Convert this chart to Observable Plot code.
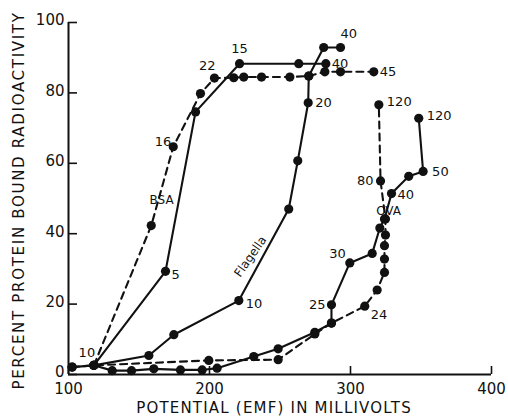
<!DOCTYPE html>
<html>
<head>
<meta charset="utf-8">
<script src="https://cdn.jsdelivr.net/npm/d3@7"></script>
<script src="https://cdn.jsdelivr.net/npm/@observablehq/plot@0.6"></script>
<style>
  html, body { margin: 0; padding: 0; background: #fff; }
  #chart svg { display: block; }
</style>
</head>
<body>
<div id="chart"></div>
<script>
// ---- Data ----
const xTicks = [100, 200, 300, 400];
const yTicks = [0, 20, 40, 60, 80, 100];

const bsaSolidMV  = [118, 168.8, 190.1, 221.3, 263.3, 282.5];
const bsaSolidPct = [2.6, 29.3, 74.6, 88.3, 88.3, 88.3];

const bsaDashedMV  = [118, 158.7, 174.3, 193.6, 203.5, 217.2, 224.3, 236.9, 257, 270.4, 281.8, 292.9, 316.5];
const bsaDashedPct = [2.6, 42.3, 64.7, 79.8, 84.2, 84.3, 84.5, 84.5, 84.5, 84.8, 86, 86, 86];

const flagellaMV  = [118, 157, 174.7, 220.8, 256.2, 262.6, 270, 270.4, 281, 292.9];
const flagellaPct = [2.6, 5.4, 11.3, 21, 47, 60.7, 77.2, 84.8, 92.9, 92.9];

const ovaSolidMV  = [102.6, 118, 131, 144.7, 160.5, 179.4, 194.8, 205.4, 231.4, 248.7, 274.7, 286.5, 286.5, 299.5, 315.4, 320.8, 324.1, 329.1, 341.3, 351.5, 348.4];
const ovaSolidPct = [2.1, 2.6, 1.1, 1.1, 1.6, 1.3, 1.3, 1.8, 5.1, 7.3, 12, 14.6, 19.8, 31.7, 34.4, 41.6, 44.2, 51.4, 56.3, 57.7, 72.8];

const ovaDashedMV  = [102.6, 118, 199.5, 248.7, 274.7, 286.5, 310.1, 318.9, 324.1, 324.1, 324.1, 324.8, 324.8, 321.3, 320.1];
const ovaDashedPct = [2.1, 2.6, 4, 4.2, 11.5, 14.6, 19.4, 24, 29, 32.8, 36.6, 39.6, 44.2, 55, 76.6];

// point annotations (time labels): series, point index, text
const labelSeries = ["bsaSolid","bsaSolid","bsaSolid","bsaSolid","bsaDashed","bsaDashed","bsaDashed","flagella","flagella","flagella","ovaSolid","ovaSolid","ovaSolid","ovaSolid","ovaSolid","ovaDashed","ovaDashed","ovaDashed"];
const labelIndex  = [0, 1, 3, 5, 2, 4, 12, 3, 6, 9, 12, 13, 17, 19, 20, 6, 13, 14];
const labelText   = ["10","5","15","40","16","22","45","10","20","40","25","30","40","50","120","24","80","120"];

// curve names
const curveNames = ["BSA", "Flagella", "OVA"];
const curveNameMV = [166, 229, 327];
const curveNamePct = [49.6, 33.5, 46.5];

// ---- Build ----
const series = {
  bsaSolid:  {x: bsaSolidMV,  y: bsaSolidPct,  dashed: false},
  bsaDashed: {x: bsaDashedMV, y: bsaDashedPct, dashed: true},
  flagella:  {x: flagellaMV,  y: flagellaPct,  dashed: false},
  ovaSolid:  {x: ovaSolidMV,  y: ovaSolidPct,  dashed: false},
  ovaDashed: {x: ovaDashedMV, y: ovaDashedPct, dashed: true}
};
const rowsOf = k => series[k].x.map((x, i) => ({x, y: series[k].y[i], s: k}));

// label placement styles (offsets in pixels), keyed by label order
const labelStyle = [
  {a:"middle", dx:-7, dy:-13}, {a:"start", dx:6, dy:3}, {a:"middle", dx:0, dy:-15}, {a:"start", dx:6, dy:0},
  {a:"end", dx:-2, dy:-5}, {a:"end", dx:1, dy:-12}, {a:"start", dx:6, dy:0},
  {a:"start", dx:7, dy:3}, {a:"start", dx:7, dy:0}, {a:"start", dx:0, dy:-14},
  {a:"end", dx:-6, dy:0}, {a:"end", dx:-4, dy:-9}, {a:"start", dx:6, dy:1}, {a:"start", dx:9, dy:0}, {a:"start", dx:8, dy:-2},
  {a:"start", dx:6, dy:9}, {a:"end", dx:-7, dy:0}, {a:"start", dx:8, dy:-3}
];

const W = 508, H = 417;
const mL = 68, mR = 17, mT = 22, mB = 43;
const innerW = W - mL - mR, innerH = H - mT - mB;
const FONT = "DejaVu Sans, sans-serif";

const marks = [];

// axis lines
marks.push(Plot.ruleX([100], {stroke: "#111", strokeWidth: 2}));
marks.push(Plot.ruleY([0], {stroke: "#111", strokeWidth: 2}));
// inward ticks
marks.push(Plot.tickX(xTicks, {x: d => d, insetTop: innerH - 8, stroke: "#111", strokeWidth: 1.6}));
marks.push(Plot.tickY(yTicks, {y: d => d, insetRight: innerW - 9, stroke: "#111", strokeWidth: 1.6}));
// tick labels
marks.push(Plot.axisX(xTicks, {tickSize: 0, tickPadding: 9, fontSize: 15, label: null, fill: "#111"}));
marks.push(Plot.axisY(yTicks, {tickSize: 0, tickPadding: 4, dy: -2, fontSize: 15, label: null, fill: "#111"}));

// lines
for (const k of Object.keys(series)) {
  marks.push(Plot.line(rowsOf(k), {
    x: "x", y: "y", stroke: "#111", strokeWidth: 2.1,
    strokeDasharray: series[k].dashed ? "7,5" : null
  }));
}
// dots
for (const k of Object.keys(series)) {
  marks.push(Plot.dot(rowsOf(k), {x: "x", y: "y", r: 4.6, fill: "#111", stroke: "none"}));
}

// point labels
labelText.forEach((t, i) => {
  const k = labelSeries[i], j = labelIndex[i], st = labelStyle[i];
  marks.push(Plot.text([{x: series[k].x[j], y: series[k].y[j], t}], {
    x: "x", y: "y", text: "t", textAnchor: st.a, dx: st.dx, dy: st.dy,
    fontSize: 13, fill: "#111", fontFamily: FONT
  }));
});

// curve names
marks.push(Plot.text([0], {x: curveNameMV[0], y: curveNamePct[0], text: () => curveNames[0], fontSize: 12, fill: "#111", fontFamily: FONT}));
marks.push(Plot.text([0], {x: curveNameMV[1], y: curveNamePct[1], text: () => curveNames[1], rotate: -55, fontSize: 12, fill: "#111", fontFamily: FONT}));
marks.push(Plot.text([0], {x: curveNameMV[2], y: curveNamePct[2], text: () => curveNames[2], fontSize: 12, fill: "#111", fontFamily: FONT}));

// axis titles
marks.push(Plot.text(["POTENTIAL (EMF) IN MILLIVOLTS"], {
  frameAnchor: "bottom", text: d => d, dy: 34, dx: -6, fontSize: 15, fill: "#111",
  fontFamily: FONT, lineAnchor: "middle", textAnchor: "middle"
}));
marks.push(Plot.text(["PERCENT PROTEIN BOUND RADIOACTIVITY"], {
  frameAnchor: "left", text: d => d, dx: -49, dy: 2, rotate: -90, fontSize: 15, fill: "#111",
  fontFamily: FONT, lineAnchor: "middle", textAnchor: "middle"
}));

const chart = Plot.plot({
  width: W, height: H,
  marginLeft: mL, marginRight: mR, marginTop: mT, marginBottom: mB,
  style: {fontFamily: FONT, background: "#fff", color: "#111"},
  x: {domain: [100, 400], axis: null},
  y: {domain: [0, 100], axis: null},
  marks
});
document.getElementById("chart").appendChild(chart);

// letter spacing on axis titles
d3.select(chart).selectAll("text").filter(function() {
  return this.textContent === "POTENTIAL (EMF) IN MILLIVOLTS";
}).attr("letter-spacing", "1.2px");
d3.select(chart).selectAll("text").filter(function() {
  return this.textContent === "PERCENT PROTEIN BOUND RADIOACTIVITY";
}).attr("letter-spacing", "1.7px");
</script>
</body>
</html>
